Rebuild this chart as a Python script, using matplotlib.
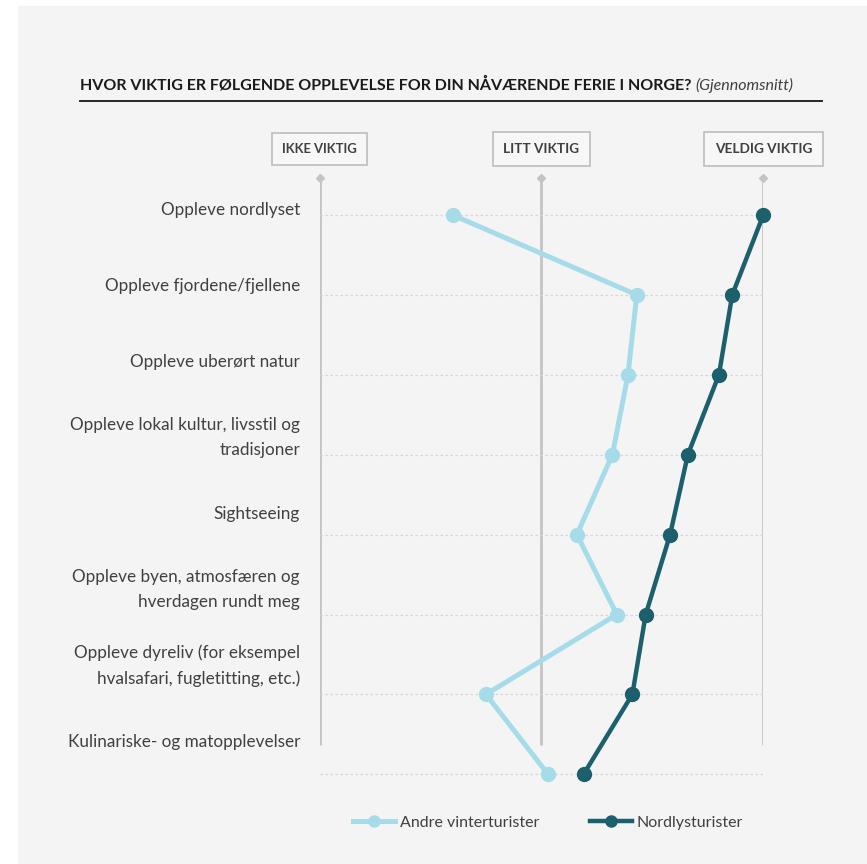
import numpy as np
import matplotlib
matplotlib.use("Agg")
import matplotlib.pyplot as plt
from matplotlib.patches import Rectangle
from matplotlib.lines import Line2D
from matplotlib.transforms import blended_transform_factory

# data: average score, 1 = ikke viktig, 2 = litt viktig, 3 = veldig viktig
categories = [
    "Oppleve nordlyset",
    "Oppleve fjordene/fjellene",
    "Oppleve uberørt natur",
    "Oppleve lokal kultur, livsstil og\ntradisjoner",
    "Sightseeing",
    "Oppleve byen, atmosfæren og\nhverdagen rundt meg",
    "Oppleve dyreliv (for eksempel\nhvalsafari, fugletitting, etc.)",
    "Kulinariske- og matopplevelser",
]
andre = [1.60, 2.43, 2.39, 2.32, 2.16, 2.34, 1.75, 2.03]
nordlys = [3.00, 2.86, 2.80, 2.66, 2.58, 2.47, 2.41, 2.19]
scale_labels = ["IKKE VIKTIG", "LITT VIKTIG", "VELDIG VIKTIG"]
scale_values = [1, 2, 3]
series_names = ["Andre vinterturister", "Nordlysturister"]

title = "HVOR VIKTIG ER FØLGENDE OPPLEVELSE FOR DIN NÅVÆRENDE FERIE I NORGE?"
subtitle = "(Gjennomsnitt)"

light = "#a6dce9"
dark = "#1c5f6d"
grey_line = "#c4c4c4"
text_col = "#404040"
bg = "#f4f4f4"

W, H = 867, 864
fig = plt.figure(figsize=(W / 100, H / 100), dpi=100)
fig.patch.set_facecolor("white")
fig.patches.append(Rectangle((18 / W, 0), 1, 1 - 6 / H, transform=fig.transFigure,
                             facecolor=bg, edgecolor="none", zorder=-10))

body = ["Lato", "DejaVu Sans"]


def fit_width(txt, target_px):
    # shrink/grow a text so it is about target_px wide
    fig.canvas.draw()
    w = txt.get_window_extent().width
    txt.set_fontsize(txt.get_fontsize() * target_px / w)


# axes placed so x=1..3 spans the three scale lines, rows 80 px apart
row_px = 79.9
top_px, bot_px = 175, 800
x0_px, x1_px = 319.5, 763.3
ax = fig.add_axes([x0_px / W, 1 - bot_px / H, (x1_px - x0_px) / W, (bot_px - top_px) / H])
ax.set_xlim(1, 3)
ax.set_ylim((bot_px - 215) / row_px, (top_px - 215) / row_px)
ax.axis("off")

rows = np.arange(len(categories))

# dotted row lines
for r in rows:
    ax.plot([1, 3], [r, r], color="#d6d6d6", lw=0.9, ls=(0, (2, 2)), zorder=1, clip_on=False)

# vertical scale lines with small tips
y_top = (180 - 215) / row_px
y_bot = (745 - 215) / row_px
ax.vlines(scale_values, y_top, y_bot, color=grey_line, lw=2, zorder=0)
ax.plot(scale_values, [y_top - 0.02] * 3, ls="none", marker="D", ms=4, color=grey_line,
        clip_on=False, zorder=0)

# header boxes
box_w = {"IKKE VIKTIG": 75, "LITT VIKTIG": 75, "VELDIG VIKTIG": 97}
for v, lab in zip(scale_values, scale_labels):
    bt = ax.text(v, (149 - 215) / row_px, lab, ha="center", va="center", fontsize=10,
                 family=body, fontweight="bold", color=text_col, clip_on=False)
    fit_width(bt, box_w[lab])
    bt.set_bbox(dict(boxstyle="square,pad=0.8", facecolor="#f7f7f7", edgecolor="#bdbdbd", lw=1.2))

# series
ax.plot(andre, rows, color=light, lw=3.6, marker="o", ms=10, zorder=3, clip_on=False,
        label=series_names[0])
ax.plot(nordlys, rows, color=dark, lw=3.2, marker="o", ms=10, zorder=4, clip_on=False,
        label=series_names[1])

# category labels, right aligned left of the axis
tr = blended_transform_factory(fig.transFigure, ax.transData)
label_y = rows * 0.951 - 0.063
for y, lab in zip(label_y, categories):
    fig.text(300 / W, y, lab, transform=tr, ha="right", va="center", fontsize=12.3,
             family=body, color=text_col, linespacing=1.7)

# title + underline
t = fig.text(80 / W, 1 - 85 / H, title, fontsize=12, fontweight="bold", family=body,
             color="#1a1a1a", va="center")
fit_width(t, 615)
fig.canvas.draw()
bb = t.get_window_extent()
st = fig.text(bb.x1 / W + 4 / W, 1 - 85 / H, subtitle, fontsize=11, fontstyle="italic",
              family=body, color=text_col, va="center")
fit_width(st, 98)
fig.lines.append(Line2D([80 / W, 822 / W], [1 - 101 / H] * 2, transform=fig.transFigure,
                        color="#262626", lw=1.4))

# legend
leg = fig.legend(loc="center", bbox_to_anchor=(548 / W, 1 - 823 / H), ncol=2, frameon=False,
                 handlelength=2.6, handletextpad=0.3, columnspacing=3.2, numpoints=1,
                 prop=dict(family=body, size=11.5), markerscale=0.8)
for txt in leg.get_texts():
    txt.set_color(text_col)

fig.savefig("out.png", dpi=100, facecolor=fig.get_facecolor())
